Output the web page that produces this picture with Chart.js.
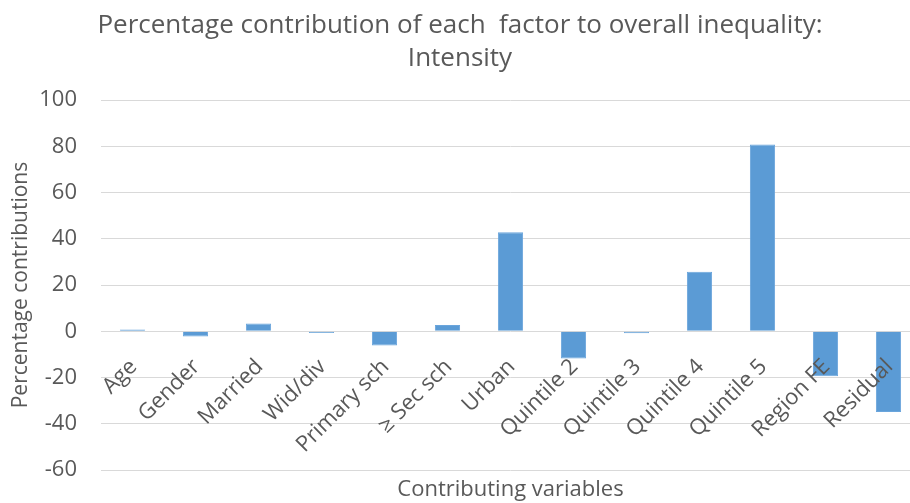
<!DOCTYPE html>
<html>
<head>
<meta charset="utf-8">
<script src="https://cdn.jsdelivr.net/npm/chart.js@4.4.1/dist/chart.umd.min.js"></script>
<style>
  html, body { margin: 0; padding: 0; background: #fff; overflow: hidden; }
  #wrap { width: 920px; height: 503px; }
</style>
</head>
<body>
<div id="wrap"><canvas id="grafico"></canvas></div>
<script>
const categorias = ['Age', 'Gender', 'Married', 'Wid/div', 'Primary sch', '\u2265 Sec sch', 'Urban',
    'Quintile 2', 'Quintile 3', 'Quintile 4', 'Quintile 5', 'Region FE', 'Residual'];
const valores = [0.8, -2.3, 3.4, -0.8, -6.2, 2.7, 42.8, -11.8, -0.9, 25.7, 80.8, -19.5, -34.9];
const tituloLineas = ['Percentage contribution of each  factor to overall inequality:', 'Intensity'];
const yTicks = [-60, -40, -20, 0, 20, 40, 60, 80, 100];

const gris = '#595959';
const fuente = '"Open Sans", sans-serif';

// etiquetas giradas debajo de la linea del cero, como en Excel
const etiquetasCero = {
    id: 'etiquetasCero',
    afterDatasetsDraw(chart) {
        const ctx = chart.ctx;
        const x = chart.scales.x;
        const y = chart.scales.y;
        const y0 = y.getPixelForValue(0);
        ctx.save();
        ctx.font = '22px ' + fuente;
        ctx.fillStyle = gris;
        ctx.textAlign = 'right';
        ctx.textBaseline = 'middle';
        categorias.forEach((c, i) => {
            const px = x.getPixelForValue(i);
            ctx.save();
            ctx.translate(px + 1, y0 + 32);
            ctx.rotate(-Math.PI / 4);
            ctx.fillText(c, 0, 0);
            ctx.restore();
        });
        ctx.restore();
    }
};

new Chart(document.getElementById('grafico'), {
    type: 'bar',
    data: {
        labels: categorias,
        datasets: [{
            data: valores,
            backgroundColor: '#5b9bd5',
            borderColor: '#6aa5dc',
            borderWidth: 1,
            barPercentage: 0.4,
            categoryPercentage: 1
        }]
    },
    options: {
        responsive: true,
        maintainAspectRatio: false,
        animation: false,
        layout: { padding: 0 },
        plugins: {
            legend: { display: false },
            tooltip: { enabled: false },
            title: {
                display: true,
                text: tituloLineas,
                color: gris,
                font: { family: fuente, size: 26, weight: 'normal', lineHeight: 1.27 },
                padding: { top: 9, bottom: 25 }
            }
        },
        scales: {
            x: {
                grid: { display: false },
                border: { display: false },
                ticks: { display: false },
                title: {
                    display: true,
                    text: 'Contributing variables',
                    color: gris,
                    font: { family: fuente, size: 22 },
                    padding: { top: 2, bottom: 0 }
                },
                afterFit: s => { s.height = 33; }
            },
            y: {
                min: -60,
                max: 100,
                afterBuildTicks: s => { s.ticks = yTicks.map(v => ({ value: v })); },
                grid: { color: '#d9d9d9', drawTicks: false, lineWidth: 1 },
                border: { display: false },
                ticks: {
                    color: gris,
                    font: { family: fuente, size: 22 },
                    padding: 24
                },
                title: {
                    display: true,
                    text: 'Percentage contributions',
                    color: gris,
                    font: { family: fuente, size: 21 },
                    padding: { top: 8, bottom: 4 }
                },
                afterFit: s => {
                    s.width = 101;
                    s.paddingTop = 0;
                    s.paddingBottom = 0;
                }
            }
        }
    },
    plugins: [etiquetasCero]
});
</script>
</body>
</html>
